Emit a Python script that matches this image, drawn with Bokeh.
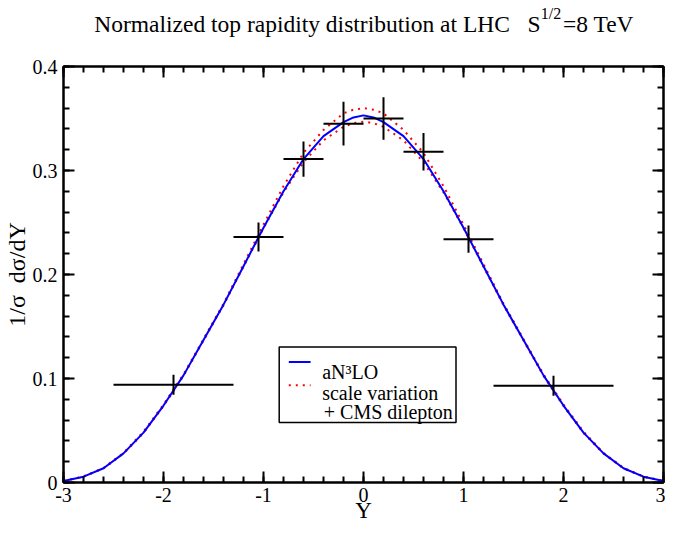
from bokeh.plotting import figure
from bokeh.models import Range1d, LinearAxis, SingleIntervalTicker, Label, CustomJSTickFormatter
from bokeh.core.properties import value
from bokeh.embed import file_html
from bokeh.resources import INLINE

# curves
rap = [-3.0, -2.8, -2.6, -2.4, -2.2, -2.0, -1.8, -1.6, -1.4, -1.2, -1.0,
       -0.8, -0.6, -0.4, -0.2, -0.1, 0.0, 0.1, 0.2, 0.4, 0.6, 0.8, 1.0,
       1.2, 1.4, 1.6, 1.8, 2.0, 2.2, 2.4, 2.6, 2.8, 3.0]
an3lo = [0.0015, 0.0056, 0.0137, 0.028, 0.048, 0.074, 0.103, 0.137, 0.171, 0.208, 0.245,
         0.280, 0.311, 0.333, 0.3465, 0.351, 0.353, 0.351, 0.3465, 0.333, 0.311, 0.280, 0.245,
         0.208, 0.171, 0.137, 0.103, 0.074, 0.048, 0.028, 0.0137, 0.0056, 0.0015]
scale_up = [0.0015, 0.0058, 0.014, 0.0285, 0.049, 0.075, 0.104, 0.138, 0.172, 0.210, 0.248,
            0.285, 0.317, 0.339, 0.355, 0.3585, 0.360, 0.3585, 0.355, 0.339, 0.317, 0.285, 0.248,
            0.210, 0.172, 0.138, 0.104, 0.075, 0.049, 0.0285, 0.014, 0.0058, 0.0015]
scale_dn = [0.0015, 0.0055, 0.0135, 0.0278, 0.0475, 0.0735, 0.1025, 0.1365, 0.1705, 0.2075, 0.2445,
            0.279, 0.308, 0.329, 0.342, 0.3455, 0.347, 0.3455, 0.342, 0.329, 0.308, 0.279, 0.2445,
            0.2075, 0.1705, 0.1365, 0.1025, 0.0735, 0.0475, 0.0278, 0.0135, 0.0055, 0.0015]

# CMS dilepton data
cms_y = [-1.9, -1.05, -0.6, -0.2, 0.2, 0.6, 1.05, 1.9]
cms_lo = [-2.5, -1.3, -0.8, -0.4, 0.0, 0.4, 0.8, 1.3]
cms_hi = [-1.3, -0.8, -0.4, 0.0, 0.4, 0.8, 1.3, 2.5]
cms_val = [0.094, 0.236, 0.311, 0.345, 0.350, 0.318, 0.234, 0.093]
cms_err = [0.0096, 0.014, 0.017, 0.021, 0.0205, 0.018, 0.013, 0.0096]

legend_labels = ["aN³LO", "scale variation", "+ CMS dilepton"]

FONT = "Liberation Serif"
NB = "\u00a0"

p = figure(width=665, height=527, x_range=Range1d(-3, 3), y_range=Range1d(0, 0.4),
           output_backend="svg", toolbar_location=None,
           x_axis_type=None, y_axis_type=None,
           min_border_left=62, min_border_right=2, min_border_top=66, min_border_bottom=45)
p.grid.visible = False
p.outline_line_color = "black"
p.outline_line_width = 2
p.background_fill_color = "white"
p.border_fill_color = "white"


def make_axis(ticker, show_labels):
    ax = LinearAxis(ticker=ticker)
    ax.axis_line_width = 2
    ax.major_tick_line_width = 2
    ax.minor_tick_line_width = 2
    ax.major_tick_in = 11
    ax.major_tick_out = 0
    ax.minor_tick_in = 6
    ax.minor_tick_out = 0
    ax.major_label_text_font = FONT
    ax.major_label_text_font_size = "20px"
    ax.major_label_text_color = "black"
    if not show_labels:
        ax.formatter = CustomJSTickFormatter(code="return ''")
        ax.major_label_text_font_size = "1px"
        ax.major_label_standoff = 0
    return ax


xt = SingleIntervalTicker(interval=1, num_minor_ticks=5)
yt = SingleIntervalTicker(interval=0.1, num_minor_ticks=5)

xb = make_axis(xt, True)
xb.major_label_standoff = 5
xb.major_label_overrides = {-3: "-3", -2: "-2", -1: "-1"}
xb.axis_label = "Y"
xb.axis_label_text_font = FONT
xb.axis_label_text_font_size = "23px"
xb.axis_label_text_font_style = "normal"
xb.axis_label_text_color = "black"
xb.axis_label_standoff = -7
p.add_layout(xb, "below")

yl = make_axis(yt, True)
yl.major_label_standoff = 6
yl.major_label_overrides = {0: "0"}
yl.axis_label = "1/σ" + NB + NB + "dσ/dY"
yl.axis_label_text_font = FONT
yl.axis_label_text_font_size = "24px"
yl.axis_label_text_font_style = "normal"
yl.axis_label_text_color = "black"
yl.axis_label_standoff = 0
p.add_layout(yl, "left")
p.add_layout(make_axis(xt, False), "above")
p.add_layout(make_axis(yt, False), "right")

# curves
p.line(rap, scale_up, line_color="red", line_width=2, line_dash="2 5")
p.line(rap, scale_dn, line_color="red", line_width=2, line_dash="2 5")
p.line(rap, an3lo, line_color="blue", line_width=2)

# data crosses
p.segment(x0=cms_lo, x1=cms_hi, y0=cms_val, y1=cms_val, line_color="black", line_width=2)
p.segment(x0=cms_y, x1=cms_y,
          y0=[v - e for v, e in zip(cms_val, cms_err)],
          y1=[v + e for v, e in zip(cms_val, cms_err)],
          line_color="black", line_width=2)

# legend box
p.quad(left=[-0.843], right=[0.925], bottom=[0.0576], top=[0.1304],
       fill_color="white", line_color="black", line_width=1.5)
p.line([-0.747, -0.529], [0.1159, 0.1159], line_color="blue", line_width=2)
p.line([-0.747, -0.529], [0.0935, 0.0935], line_color="red", line_width=2, line_dash="2 5")
p.text(x=[-0.413, -0.413, -0.397], y=[0.1067, 0.0861, 0.068], text=legend_labels,
       text_font=value(FONT), text_font_size="20px", text_color="black",
       text_align="left", text_baseline="alphabetic")

# title, placed in the top panel so that it is not clipped by the frame
p.add_layout(Label(x=-2.693, y=0.441,
                   text="Normalized top rapidity distribution at LHC" + NB * 3 + "S" + NB * 3 + "\u2009=8 TeV",
                   text_font=FONT, text_font_size="23.5px", text_color="black",
                   text_align="left", text_baseline="alphabetic"), "above")
p.add_layout(Label(x=1.772, y=0.4513, text="1/2", text_font=FONT, text_font_size="16px",
                   text_color="black", text_align="left", text_baseline="alphabetic"), "above")

open("out.html", "w").write(file_html(p, INLINE))
